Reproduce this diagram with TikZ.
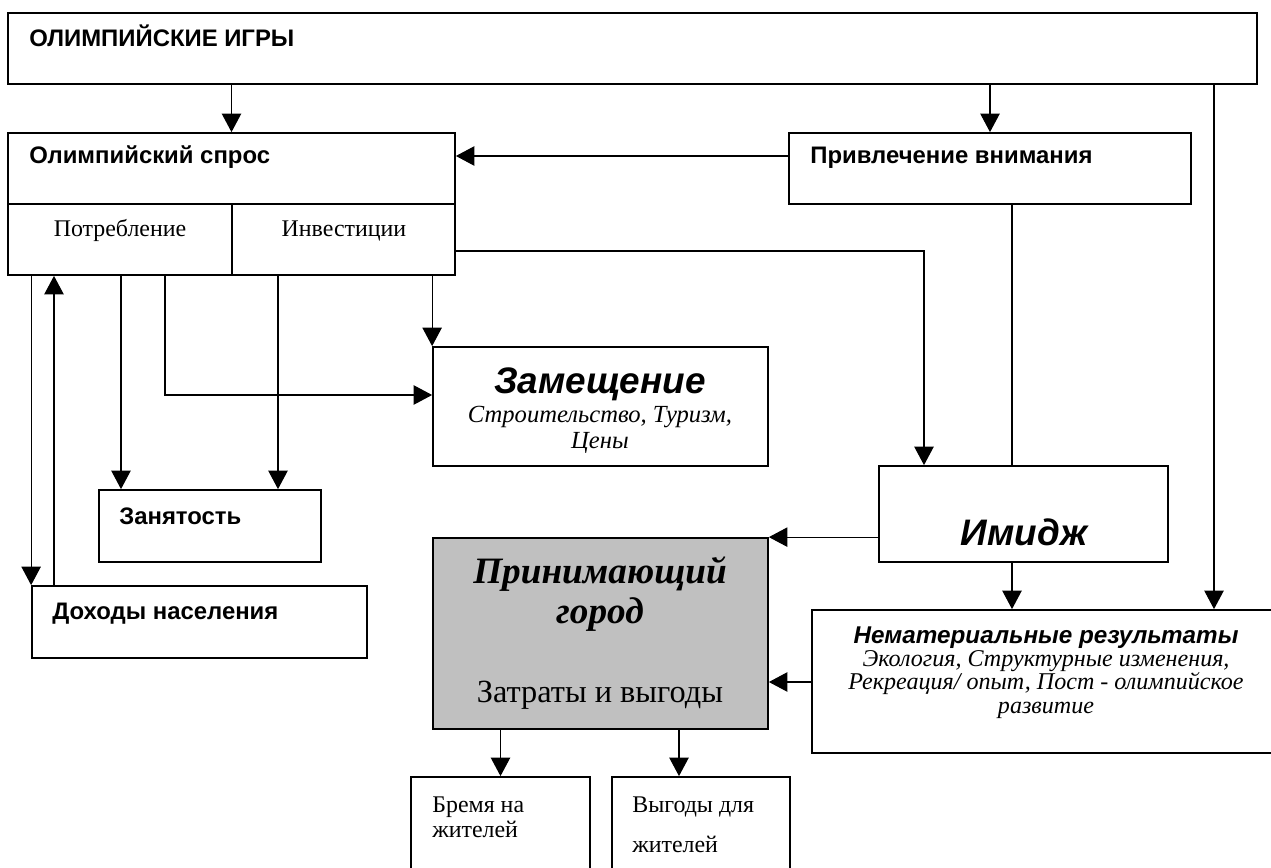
\documentclass[tikz,border=0pt]{standalone}
\usepackage{fontspec}
\setmainfont{Liberation Serif}
\setsansfont{Liberation Sans}
\usetikzlibrary{arrows.meta,fit}
\definecolor{cityfill}{HTML}{C0C0C0}
\begin{document}
\begin{tikzpicture}[x=0.02cm,y=-0.02cm]
		\tikzstyle{box}=[draw=black,line width=1pt,inner sep=0pt]
		\tikzstyle{arr}=[draw,line width=0.7pt,-{Triangle[length=10.5pt,width=11pt]}]
		\tikzstyle{ln}=[draw,line width=0.7pt]
		\tikzstyle{hdr}=[anchor=base west,inner sep=0pt,font=\sffamily\bfseries\fontsize{13.6}{15}\selectfont]
		\tikzstyle{bigsans}=[anchor=base,inner sep=0pt,font=\sffamily\bfseries\itshape\fontsize{21}{24}\selectfont]
		\tikzstyle{nemtitle}=[anchor=base,inner sep=0pt,font=\sffamily\bfseries\itshape\fontsize{13.8}{16}\selectfont]
		\tikzstyle{citytitle}=[anchor=base,inner sep=0pt,font=\rmfamily\bfseries\itshape\fontsize{21.2}{24}\selectfont]
		\tikzstyle{note}=[anchor=base,inner sep=0pt,font=\rmfamily\itshape\fontsize{14}{16}\selectfont]
		\tikzstyle{plain}=[anchor=base,inner sep=0pt,font=\rmfamily\fontsize{13.6}{16}\selectfont]
		\useasboundingbox (0,0) rectangle (1271,868);
		\clip (0,0) rectangle (1271,868);
		\begin{scope}
			\node [box,fit={(8,13) (1257,84)}] (top) {};
			\node [box,fit={(8,133) (455,204)}] (dem) {};
			\node [box,fit={(8,204) (232,275)}] (cons) {};
			\node [box,fit={(232,204) (455,275)}] (inv) {};
			\node [box,fit={(789,133) (1191,204)}] (att) {};
			\node [box,fit={(433,347) (768,466)}] (zam) {};
			\node [box,fit={(99,490) (321,562)}] (emp) {};
			\node [box,fit={(32,586) (367,658)}] (inc) {};
			\node [box,fit={(879,466) (1168,562)}] (img) {};
			\node [box,fill=cityfill,fit={(433,538) (768,729)}] (city) {};
			\node [box,fit={(812,610) (1285,753)}] (nem) {};
			\node [box,fit={(411,777) (590,885)}] (bur) {};
			\node [box,fit={(612,777) (790,885)}] (ben) {};

			\node [hdr] (topT) at (29,47) {ОЛИМПИЙСКИЕ ИГРЫ};
			\node [hdr] (demT) at (29,164) {Олимпийский спрос};
			\node [hdr] (attT) at (810,164) {Привлечение внимания};
			\node [hdr] (empT) at (119,524) {Занятость};
			\node [hdr] (incT) at (52,619) {Доходы населения};
			\node [plain] (consT) at (120,236) {Потребление};
			\node [plain] (invT) at (344,236) {Инвестиции};
			\node [bigsans] (zamT) at (600,393) {Замещение};
			\node [note] (zamS1) at (600,422) {Строительство, Туризм,};
			\node [note] (zamS2) at (600,448) {Цены};
			\node [bigsans] (imgT) at (1024,545) {Имидж};
			\node [citytitle] (cityT1) at (600,583) {Принимающий};
			\node [citytitle] (cityT2) at (600,623) {город};
			\node [plain,font=\rmfamily\fontsize{18.4}{21}\selectfont] (cityT3) at (600,702) {Затраты и выгоды};
			\node [nemtitle] (nemT) at (1046,643) {Нематериальные результаты};
			\node [note,font=\rmfamily\itshape\fontsize{13.7}{16}\selectfont] (nemS1) at (1046,666) {Экология, Структурные изменения,};
			\node [note,font=\rmfamily\itshape\fontsize{13.7}{16}\selectfont] (nemS2) at (1046,689) {Рекреация/ опыт, Пост - олимпийское};
			\node [note,font=\rmfamily\itshape\fontsize{13.7}{16}\selectfont] (nemS3) at (1046,713) {развитие};
			\node [plain,anchor=base west] (burT1) at (432,812) {Бремя на};
			\node [plain,anchor=base west] (burT2) at (432,837) {жителей};
			\node [plain,anchor=base west] (benT1) at (632,812) {Выгоды для};
			\node [plain,anchor=base west] (benT2) at (632,852) {жителей};

			\coordinate (xR) at (1214,0);
			\coordinate (xI) at (1012,0);
			\coordinate (xB) at (924,0);
			\coordinate (xU) at (54,0);
			\coordinate (xE1) at (121,0);
			\coordinate (xS) at (165,0);
			\coordinate (xE2) at (278,0);
			\coordinate (xG) at (679,0);
			\coordinate (yA) at (0,156);
			\coordinate (yB) at (0,251);
			\coordinate (yS) at (0,395);
			\coordinate (yN) at (0,682);

			\path[arr] (top.south -| dem.north) -- (dem.north);
			\path[arr] (top.south -| att.north) -- (att.north);
			\path[arr] (top.south -| xR) -- (nem.north -| xR);
			\path[arr] (att.west |- yA) -- (dem.east |- yA);
			\path[ln] (att.south -| xI) -- (img.north -| xI);
			\path[arr] (inv.east |- yB) -| (img.north -| xB);
			\path[arr] (img.west |- city.north) -- (city.north east);
			\path[arr] (img.south -| xI) -- (nem.north -| xI);
			\path[arr] (nem.west |- yN) -- (city.east |- yN);
			\path[arr] (city.south -| bur.north) -- (bur.north);
			\path[arr] (city.south -| xG) -- (ben.north -| xG);
			\path[arr] (cons.south -| inc.north west) -- (inc.north west);
			\path[arr] (inc.north -| xU) -- (cons.south -| xU);
			\path[arr] (cons.south -| xE1) -- (emp.north -| xE1);
			\path[arr] (cons.south -| xS) |- (zam.west |- yS);
			\path[arr] (inv.south -| xE2) -- (emp.north -| xE2);
			\path[arr] (inv.south -| zam.north west) -- (zam.north west);
		\end{scope}
\end{tikzpicture}
\end{document}
